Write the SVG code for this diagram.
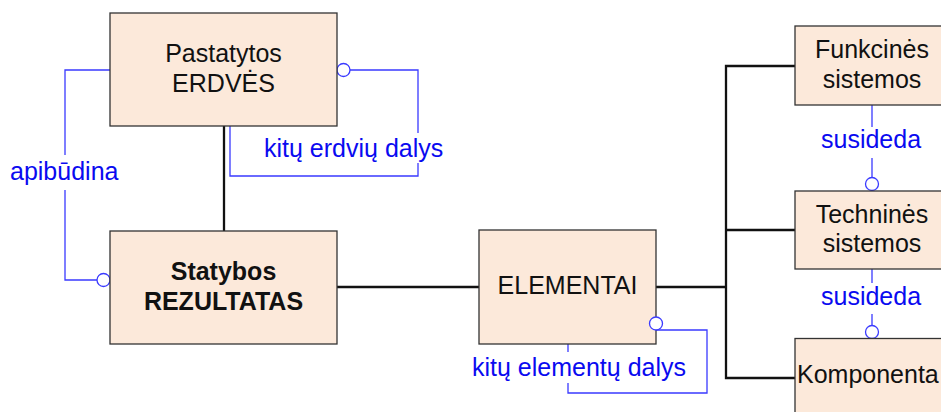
<svg xmlns="http://www.w3.org/2000/svg" width="941" height="412" viewBox="0 0 941 412">
<style>
.box{fill:#fce9da;stroke:#333;stroke-width:1.3}
.t{font-family:"Liberation Sans",Arial,sans-serif;font-size:25px;fill:#111;text-anchor:middle}
.b{font-weight:bold}
.lbl{font-family:"Liberation Sans",Arial,sans-serif;font-size:25px;fill:#0a0af0}
.blk{fill:none;stroke:#111;stroke-width:2.3}
.blu{fill:none;stroke:#3a3aff;stroke-width:1.3}
.circ{fill:#fff;stroke:#3a3aff;stroke-width:1.3}
</style>
<rect width="941" height="412" fill="#fff"/>
<g id="connectors">
<line class="blk" x1="224" y1="126" x2="224" y2="231"/>
<line class="blk" x1="337" y1="287" x2="479" y2="287"/>
<line class="blk" x1="656" y1="287" x2="726" y2="287"/>
<polyline class="blk" points="795,66 726,66 726,378 795,378"/>
<line class="blk" x1="726" y1="230" x2="795" y2="230"/>
<polyline class="blu" points="110,70 65,70 65,155"/>
<polyline class="blu" points="65,190 65,280 97,280"/>
<circle class="circ" cx="103.5" cy="280" r="6.5"/>
<text class="lbl" x="10" y="180">apibūdina</text>
<polyline class="blu" points="350,70 418,70 418,133"/>
<polyline class="blu" points="418,163 418,176 230,176 230,126"/>
<circle class="circ" cx="343.5" cy="70" r="6.5"/>
<text class="lbl" x="264" y="157">kitų erdvių dalys</text>
<polyline class="blu" points="656,330 707,330 707,393 568,393 568,383"/>
<line class="blu" x1="568" y1="352" x2="568" y2="344"/>
<text class="lbl" x="472" y="376">kitų elementų dalys</text>
<line class="blu" x1="872" y1="105" x2="872" y2="127"/>
<line class="blu" x1="872" y1="158" x2="872" y2="177.5"/>
<circle class="circ" cx="872" cy="184" r="6.5"/>
<text class="lbl" x="821" y="148">susideda</text>
<line class="blu" x1="872" y1="269" x2="872" y2="283"/>
<line class="blu" x1="872" y1="314" x2="872" y2="325.5"/>
<circle class="circ" cx="872" cy="332" r="6.5"/>
<text class="lbl" x="821" y="305">susideda</text>
</g>
<g id="pastatytos">
<rect class="box" x="110" y="13" width="227" height="113"/>
<text class="t" x="223.5" y="62">Pastatytos</text>
<text class="t" x="223.5" y="92">ERDVĖS</text>
</g>
<g id="statybos">
<rect class="box" x="110" y="231" width="227" height="113"/>
<text class="t b" x="223.5" y="280">Statybos</text>
<text class="t b" x="223.5" y="310">REZULTATAS</text>
</g>
<g id="elementai">
<rect class="box" x="479" y="230" width="177" height="114"/>
<text class="t" x="567.5" y="294">ELEMENTAI</text>
</g>
<circle class="circ" cx="656" cy="323.5" r="6.5"/>
<g id="funkcines">
<rect class="box" x="795" y="26" width="153" height="79"/>
<text class="t" x="872" y="58">Funkcinės</text>
<text class="t" x="872" y="88">sistemos</text>
</g>
<g id="technines">
<rect class="box" x="795" y="191" width="153" height="78"/>
<text class="t" x="872" y="223">Techninės</text>
<text class="t" x="872" y="252">sistemos</text>
</g>
<g id="komponenta">
<rect class="box" x="795" y="338.5" width="153" height="80"/>
<text class="t" x="797" y="383" style="text-anchor:start">Komponenta</text>
</g>
</svg>
